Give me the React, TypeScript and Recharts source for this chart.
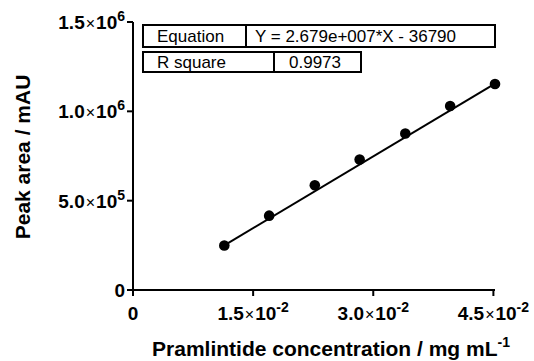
import React from 'react';
import { ScatterChart, Scatter, XAxis, YAxis } from 'recharts';

// calibration points
const concentrations = [0.0114, 0.017, 0.0227, 0.0283, 0.034, 0.0396, 0.0452];
const peakAreas = [249000, 416000, 586000, 730000, 876000, 1030000, 1153000];

// ends of the drawn regression line
const fitX = [0.0114, 0.0452];
const fitY = [250000, 1155000];

const xTicks = [0, 0.015, 0.03, 0.045];
const xTickMantissa = ['0', '1.5', '3.0', '4.5'];
const xTickExp = ['', '-2', '-2', '-2'];

const yTicks = [0, 500000, 1000000, 1500000];
const yTickMantissa = ['0', '5.0', '1.0', '1.5'];
const yTickExp = ['', '5', '6', '6'];

const equationRow = ['Equation', 'Y = 2.679e+007*X - 36790'];
const rSquareRow = ['R square', '0.9973'];

const points = concentrations.map((x, i) => ({ x, y: peakAreas[i] }));
const fit = fitX.map((x, i) => ({ x, y: fitY[i] }));

const FONT = 'Arial, "Liberation Sans", Helvetica, sans-serif';

const SciLabel = ({ x, y, mant, exp, anchor }: any) => (
  <text x={x} y={y} textAnchor={anchor} fontFamily={FONT} fill="#000">
    <tspan fontSize={19} fontWeight="bold">{mant}</tspan>
    {exp && <tspan fontSize={16} dx={1}>×</tspan>}
    {exp && <tspan fontSize={19} fontWeight="bold" dx={1}>10</tspan>}
    {exp && <tspan fontSize={14} fontWeight="bold" dy={-8}>{exp}</tspan>}
  </text>
);

const XTick = (props: any) => {
  const i = xTicks.indexOf(props.payload.value);
  return <SciLabel x={props.x} y={props.y + 22} mant={xTickMantissa[i]} exp={xTickExp[i]} anchor="middle" />;
};

const YTick = (props: any) => {
  const i = yTicks.indexOf(props.payload.value);
  return <SciLabel x={props.x} y={props.y + 7} mant={yTickMantissa[i]} exp={yTickExp[i]} anchor="end" />;
};

const Dot = (props: any) => <circle cx={props.cx} cy={props.cy} r={5.3} fill="#000" />;
const NoDot = () => <g />;

export default function App() {
  return (
    <div style={{ position: 'absolute', left: 0, top: 0, width: 534, height: 361, background: '#fff' }}>
      <ScatterChart width={534} height={361} margin={{ top: 22, right: 39, bottom: 41, left: 0 }}>
        <XAxis
          type="number"
          dataKey="x"
          domain={[0, 0.045]}
          ticks={xTicks}
          height={30}
          tickSize={6}
          tickMargin={2}
          axisLine={{ stroke: '#000', strokeWidth: 2 }}
          tickLine={{ stroke: '#000', strokeWidth: 2 }}
          tick={<XTick />}
        />
        <YAxis
          type="number"
          dataKey="y"
          domain={[0, 1500000]}
          ticks={yTicks}
          width={133}
          tickSize={6}
          tickMargin={2}
          axisLine={{ stroke: '#000', strokeWidth: 2 }}
          tickLine={{ stroke: '#000', strokeWidth: 2 }}
          tick={<YTick />}
        />
        <Scatter data={fit} line={{ stroke: '#000', strokeWidth: 2 }} shape={<NoDot />} isAnimationActive={false} />
        <Scatter data={points} shape={<Dot />} isAnimationActive={false} />
      </ScatterChart>
      <svg
        width={534}
        height={361}
        style={{ position: 'absolute', left: 0, top: 0, pointerEvents: 'none' }}
        fontFamily={FONT}
      >
        <g fill="#fff" stroke="#000" strokeWidth={2}>
          <rect x={143} y={25} width={352} height={22} />
          <line x1={246} y1={25} x2={246} y2={47} />
          <rect x={143} y={52} width={218} height={20} />
          <line x1={274} y1={52} x2={274} y2={72} />
        </g>
        <g fontSize={17} fill="#000">
          <text x={157} y={42}>{equationRow[0]}</text>
          <text x={255} y={42}>{equationRow[1]}</text>
          <text x={157} y={68}>{rSquareRow[0]}</text>
          <text x={289} y={68}>{rSquareRow[1]}</text>
        </g>
        <text x={331} y={356} textAnchor="middle" fontSize={21} fontWeight="bold" fill="#000">
          Pramlintide concentration / mg mL<tspan fontSize={14} dy={-9}>-1</tspan>
        </text>
        <text
          x={0}
          y={0}
          transform="translate(30,157) rotate(-90)"
          textAnchor="middle"
          fontSize={21}
          fontWeight="bold"
          fill="#000"
        >
          Peak area / mAU
        </text>
      </svg>
    </div>
  );
}
